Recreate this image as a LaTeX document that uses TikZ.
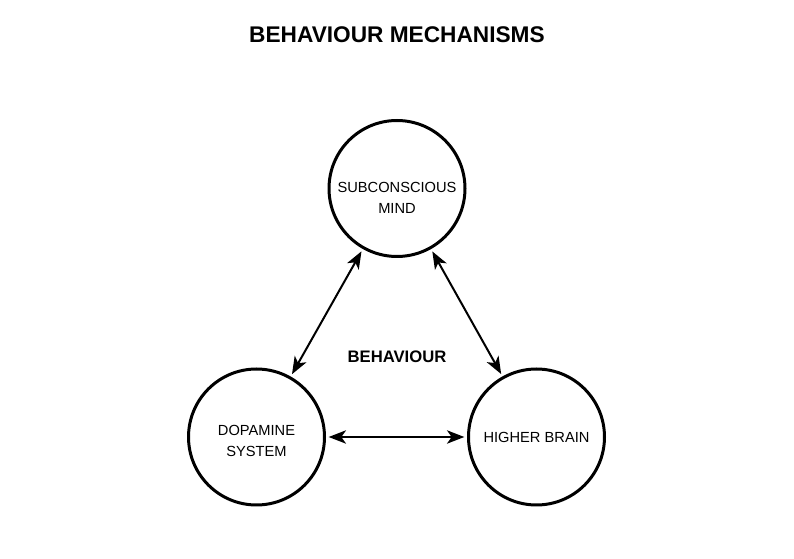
\documentclass[tikz,border=0pt]{standalone}
\usepackage{fontspec}
\setmainfont{Liberation Sans}
\usetikzlibrary{arrows.meta, calc}

\begin{document}
\begin{tikzpicture}[x=0.75pt, y=-0.75pt,
	ring/.style={circle, draw, line width=2.25pt, minimum size=102pt, inner sep=0pt},
	link/.style={line width=1.5pt, {Stealth[length=13pt, width=10pt, inset=3.5pt]}-{Stealth[length=13pt, width=10pt, inset=3.5pt]}, shorten <=2pt, shorten >=2pt},
	caption/.style={font=\fontsize{11pt}{15.75pt}\selectfont, align=center}]
	\useasboundingbox (0,0) rectangle (794,559);
	\coordinate (c0) at (397,188.5);
	\coordinate (c1) at (256.5,437);
	\coordinate (c2) at (536.5,437);
	\path (397,34.5) node (title) [font=\fontsize{17pt}{20pt}\selectfont\bfseries] {BEHAVIOUR MECHANISMS};
	\path (c0) node (mind) [ring] {};
	\path (c1) node (dopamine) [ring] {};
	\path (c2) node (brain) [ring] {};
	\path ($(c0)+(0,9.5)$) node (mindtext) [caption] {SUBCONSCIOUS\\MIND};
	\path ($(c1)+(0,4)$) node (dopaminetext) [caption] {DOPAMINE\\SYSTEM};
	\path (c2) node (braintext) [caption] {HIGHER BRAIN};
	\path (397,357) node (behaviour) [font=\fontsize{12.5pt}{15pt}\selectfont\bfseries] {BEHAVIOUR};
	\draw [link] (mind) -- (dopamine);
	\draw [link] (mind) -- (brain);
	\draw [link] (dopamine) -- (brain);
\end{tikzpicture}
\end{document}
